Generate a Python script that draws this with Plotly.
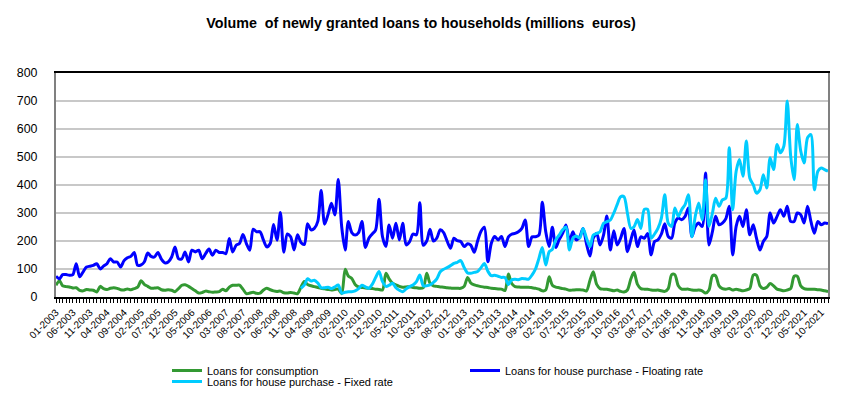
import pandas as pd
import plotly.graph_objects as go

# ---- data (millions of euros), monthly 01-2003 .. 12-2021 ----
months = pd.date_range("2003-01-01", periods=228, freq="MS")

consumption = [
    42, 58, 40, 37, 36, 32, 33, 24, 22, 27, 25, 24, 18, 38, 30, 27, 31, 33, 31, 26,
    25, 29, 26, 30, 35, 58, 45, 38, 31, 32, 33, 26, 24, 26, 24, 19, 30, 42, 44, 38,
    30, 22, 14, 16, 21, 19, 17, 18, 19, 28, 22, 35, 42, 42, 42, 28, 12, 14, 17, 13,
    14, 25, 31, 26, 22, 20, 21, 15, 14, 16, 14, 12,
    35, 55, 45, 40, 37, 34, 31, 29, 27, 25, 27, 28, 12, 99, 75, 66, 45, 36, 34, 32,
    31, 30, 28, 27, 25, 85, 65, 49, 43, 38, 35, 36,
    37, 34, 33, 31, 33, 85, 50, 40, 38, 36, 35, 33, 32, 31, 31, 31, 38, 70, 50, 43,
    40, 37, 35, 34, 31, 30, 29, 28, 23, 82, 49, 37, 36, 35, 35, 35, 33, 31,
    28, 22, 25, 72, 42, 35, 33, 30, 28, 24, 25, 26, 26,
    25, 22, 60, 90, 45, 30, 28, 28, 25, 22, 25, 20, 18, 25, 65, 88, 45, 30, 28, 28,
    25, 24, 25, 22, 20, 30, 80, 80, 40, 28, 28, 28, 25, 24, 25, 22, 14, 25, 76, 76,
    40, 30, 28, 30, 25, 28, 25, 22, 25, 30, 78, 78, 40, 30, 35, 48, 40, 28, 25, 22,
    25, 30, 74, 74, 40, 30, 28, 28, 28, 26, 25, 22, 20,
]

floating_rate = [
    74, 65, 80, 80, 78, 80, 119, 72, 90, 107, 110, 113, 119, 100, 110, 119, 137, 125, 125, 107,
    130, 140, 145, 159, 113, 115, 125, 157, 145, 143, 159, 135, 122, 125, 143, 179, 137, 137, 161, 125,
    167, 161, 167, 137, 155, 171, 149, 167, 159, 159, 155, 209, 161, 185, 191, 223, 191, 167, 242, 233,
    233, 203, 179, 191, 259, 203, 302, 160,
    225, 215, 168, 222, 195, 188, 262, 240, 245, 270, 380, 260, 295, 335, 293, 420, 250, 168, 270, 230,
    221, 230, 270, 177, 210, 225, 240, 349, 215, 180, 257, 210, 263, 204, 263, 186,
    198, 225, 222, 337, 185, 200, 242, 200, 210, 240, 230, 200, 174, 210, 201, 198, 180, 190, 185, 160,
    200, 235, 249, 126, 192, 216, 204, 216, 180, 215, 224, 227, 233, 245, 275, 180, 215, 215,
    221, 338, 233, 180, 249, 177, 205, 227, 257, 198, 233, 204, 215, 245, 189, 146, 210, 227, 186, 221,
    289, 168, 237, 186, 210, 245, 162, 204, 239, 180, 215, 210, 227, 150, 198, 204,
    225, 262, 216, 210, 264, 282, 276, 288, 318, 216, 252, 264, 252, 443, 186, 234, 288, 258, 264, 280,
    324, 150, 252, 288, 252, 312, 222, 258, 210, 168, 198, 216, 300, 264, 288, 312, 288, 324, 270, 270,
    300, 294, 264, 324, 270, 228, 270, 258, 264, 262,
]

fixed_rate = [None] * 72 + [
    31, 43, 65, 57, 60, 50, 33, 33, 35, 30, 36, 43, 14, 17, 19, 19, 22, 30, 42, 36,
    31, 45, 70, 91, 55, 38, 42, 49, 33, 24, 19, 29,
    37, 43, 55, 79, 40, 40, 43, 52, 65, 90, 99, 105, 112, 120, 124, 130, 105, 86, 85, 88,
    91, 105, 120, 92, 76, 78, 74, 70, 70, 45, 61, 63, 62, 66, 65, 64, 79, 100,
    138, 177, 114, 162, 170, 204, 221, 240, 250, 168, 210, 218, 210, 245, 210, 180, 221, 227, 233, 263,
    269, 275, 300, 330, 358, 358, 299, 245, 251, 277, 245, 313, 313, 210, 225, 245,
    282, 365, 264, 252, 318, 288, 312, 330, 365, 215, 290, 336, 276, 419, 252, 300, 353, 324, 347, 353,
    533, 312, 449, 491, 431, 557, 425, 401, 371, 383, 437, 389, 497, 455, 545, 515, 539, 700, 503, 419,
    616, 521, 479, 569, 580, 383, 449, 461, 455, 449,
]

assert len(consumption) == len(months), len(consumption)
assert len(floating_rate) == len(months), len(floating_rate)
assert len(fixed_rate) == len(months), len(fixed_rate)

tick_dates = months[::5]
tick_labels = [d.strftime("%m-%Y") for d in tick_dates]
y_ticks = list(range(0, 801, 100))

FONT = "Liberation Sans, Arial, sans-serif"
H = 399

fig = go.Figure()
fig.add_trace(go.Scatter(
    x=months, y=consumption, mode="lines", name="Loans for consumption",
    line=dict(color="#339933", width=3, shape="spline", smoothing=0.8),
    legend="legend",
))
fig.add_trace(go.Scatter(
    x=months, y=floating_rate, mode="lines", name="Loans for house purchase - Floating rate",
    line=dict(color="#0000ff", width=3, shape="spline", smoothing=0.8),
    legend="legend",
))
fig.add_trace(go.Scatter(
    x=months, y=fixed_rate, mode="lines", name="Loans for house purchase - Fixed rate",
    line=dict(color="#00ccff", width=3, shape="spline", smoothing=0.8),
    legend="legend2",
))

fig.update_layout(
    width=842, height=H,
    margin=dict(l=56, r=14, t=73, b=102, autoexpand=False),
    paper_bgcolor="white", plot_bgcolor="white",
    font=dict(family=FONT, color="#000000"),
    title=dict(
        text="<b>Volume  of newly granted loans to households (millions  euros)</b>",
        x=0.5, xref="container", xanchor="center",
        y=1 - 23 / H, yref="container", yanchor="middle",
        font=dict(size=14.3, family=FONT, color="#000000"),
    ),
    legend=dict(
        orientation="h", x=167 / 842, xref="container", xanchor="left",
        y=1 - 356 / H, yref="container", yanchor="top",
        entrywidth=253, entrywidthmode="pixels",
        font=dict(size=11, family=FONT), bgcolor="rgba(0,0,0,0)",
        traceorder="normal",
    ),
    legend2=dict(
        orientation="h", x=167 / 842, xref="container", xanchor="left",
        y=1 - 367 / H, yref="container", yanchor="top",
        font=dict(size=11, family=FONT), bgcolor="rgba(0,0,0,0)",
    ),
    showlegend=True,
    hovermode=False,
)

fig.update_xaxes(
    type="date", automargin=False,
    range=[months[0], months[-1]],
    tickmode="array", tickvals=tick_dates, ticktext=tick_labels,
    tickangle=-45, tickfont=dict(size=10, family=FONT, color="#000000"),
    ticks="outside", ticklen=4, tickcolor="#000000",
    minor=dict(ticks="outside", ticklen=4, dtick="M1", tick0="2003-01-01", tickcolor="#000000", showgrid=False),
    showline=True, linecolor="#000000", linewidth=1.5, mirror=True,
    showgrid=False, zeroline=False,
)
fig.update_yaxes(
    automargin=False,
    range=[0, 800], tickmode="array", tickvals=y_ticks,
    tickfont=dict(size=12.4, family=FONT, color="#000000"),
    ticklabelstandoff=14,
    showgrid=True, gridcolor="#c8c8c8", gridwidth=1.5,
    showline=True, linecolor="#808080", linewidth=2, mirror=True,
    zeroline=False,
)

fig.write_html(
    "out.html",
    config={"displayModeBar": False},
    post_script="document.body.style.margin='0';",
)
